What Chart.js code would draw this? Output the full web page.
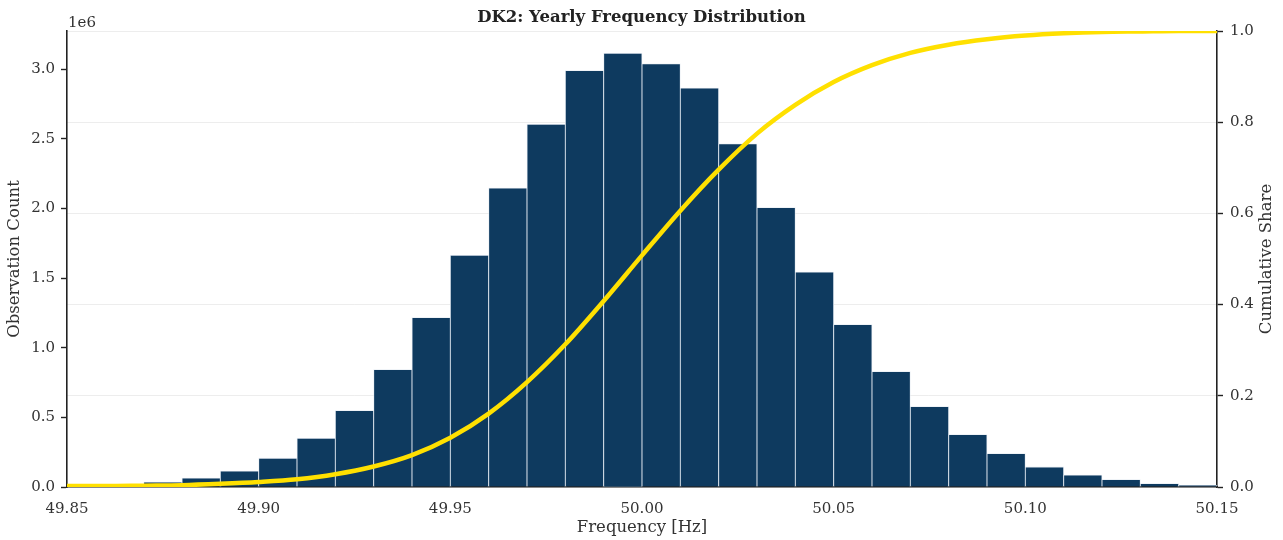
<!DOCTYPE html>
<html>
<head>
<meta charset="utf-8">
<title>DK2: Yearly Frequency Distribution</title>
<script src="https://cdn.jsdelivr.net/npm/chart.js@4.4.1/dist/chart.umd.min.js"></script>
<style>
  html, body { margin: 0; padding: 0; background: #ffffff; }
  #wrap { width: 1283px; height: 540px; }
</style>
</head>
<body>
<div id="wrap"><canvas id="chart" width="1283" height="540"></canvas></div>
<script>
// Histogram bins (left edge, Hz) and observation counts per 0.01 Hz bin
const binStart = [
  49.85, 49.86, 49.87, 49.88, 49.89, 49.90, 49.91, 49.92, 49.93, 49.94,
  49.95, 49.96, 49.97, 49.98, 49.99, 50.00, 50.01, 50.02, 50.03, 50.04,
  50.05, 50.06, 50.07, 50.08, 50.09, 50.10, 50.11, 50.12, 50.13, 50.14
];
const binWidth = 0.01;
const counts = [
  3000, 12000, 36000, 64000, 114000, 207000, 349000, 549000, 843000, 1216000,
  1663000, 2146000, 2604000, 2989000, 3113000, 3037000, 2864000, 2463000, 2006000, 1543000,
  1166000, 829000, 577000, 376000, 240000, 144000, 86000, 53000, 25000, 12000
];

// Cumulative share of observations at each frequency
const cdfFreq = [
  49.85, 49.86, 49.87, 49.88, 49.89, 49.90, 49.91, 49.92, 49.93, 49.94,
  49.95, 49.96, 49.97, 49.98, 49.99, 50.00, 50.01, 50.02, 50.03, 50.04,
  50.05, 50.06, 50.07, 50.08, 50.09, 50.10, 50.11, 50.12, 50.13, 50.14, 50.15
];
const cdfShare = [
  0.002, 0.002, 0.003, 0.004, 0.007, 0.011, 0.017, 0.028, 0.045, 0.070,
  0.108, 0.161, 0.230, 0.313, 0.408, 0.508, 0.606, 0.696, 0.775, 0.838,
  0.888, 0.925, 0.952, 0.970, 0.982, 0.990, 0.995, 0.998, 0.999, 1.000, 1.000
];

// Axis ticks
const freqTicks = [49.85, 49.90, 49.95, 50.00, 50.05, 50.10, 50.15];
const countTicks = [0, 500000, 1000000, 1500000, 2000000, 2500000, 3000000];
const shareTicks = [0.0, 0.2, 0.4, 0.6, 0.8, 1.0];
const countMax = 3273000;

const titleText = 'DK2: Yearly Frequency Distribution';
const xTitle = 'Frequency [Hz]';
const yTitle = 'Observation Count';
const y2Title = 'Cumulative Share';
const countScaleNote = '1e6';

const FONT = '"DejaVu Serif", "Liberation Serif", serif';
const TEXT = '#333333';
const AXIS = '#222222';
const TICK_SIZE = 15;
const LABEL_SIZE = 16.5;

// Right-hand axis title (reads bottom to top) and the 1e6 multiplier note
const axisNotes = {
  id: 'axisNotes',
  afterDraw(chart) {
    const { ctx, chartArea, scales } = chart;
    ctx.save();
    ctx.fillStyle = TEXT;
    ctx.font = TICK_SIZE + 'px ' + FONT;
    ctx.textAlign = 'left';
    ctx.textBaseline = 'alphabetic';
    ctx.fillText(countScaleNote, chartArea.left + 1, chartArea.top - 4);

    ctx.font = LABEL_SIZE + 'px ' + FONT;
    ctx.translate(scales.y2.right - 16, (chartArea.top + chartArea.bottom) / 2);
    ctx.rotate(-Math.PI / 2);
    ctx.textAlign = 'center';
    ctx.textBaseline = 'middle';
    ctx.fillText(y2Title, 0, 0);
    ctx.restore();
  }
};

const barData = binStart.map((s, i) => ({ x: s + binWidth / 2, y: counts[i] }));
const lineData = cdfFreq.map((f, i) => ({ x: f, y: cdfShare[i] }));

new Chart(document.getElementById('chart'), {
  type: 'bar',
  data: {
    datasets: [
      {
        type: 'line',
        label: 'Cumulative Share',
        data: lineData,
        yAxisID: 'y2',
        borderColor: '#FFE000',
        borderWidth: 4.5,
        borderCapStyle: 'round',
        pointRadius: 0,
        cubicInterpolationMode: 'monotone',
        fill: false,
        order: 0
      },
      {
        type: 'bar',
        label: 'Observation Count',
        data: barData,
        yAxisID: 'y',
        backgroundColor: '#0e3a5f',
        borderColor: 'rgba(225, 232, 240, 0.9)',
        borderWidth: 0.8,
        borderSkipped: 'bottom',
        barPercentage: 1.0,
        categoryPercentage: 1.0,
        order: 1
      }
    ]
  },
  options: {
    responsive: false,
    animation: false,
    devicePixelRatio: 1,
    layout: { padding: 0 },
    plugins: {
      legend: { display: false },
      tooltip: { enabled: false },
      title: {
        display: true,
        text: titleText,
        color: '#222222',
        font: { family: FONT, size: LABEL_SIZE, weight: 'bold', lineHeight: 1.2 },
        padding: { top: 8, bottom: 3.2 }
      }
    },
    scales: {
      x: {
        type: 'linear',
        position: 'bottom',
        min: 49.85,
        max: 50.15,
        offset: false,
        afterBuildTicks: (s) => { s.ticks = freqTicks.map(v => ({ value: v })); },
        afterFit: (s) => { s.height = 53; },
        ticks: {
          color: TEXT,
          font: { family: FONT, size: TICK_SIZE },
          padding: 13,
          maxRotation: 0,
          autoSkip: false,
          callback: (v) => Number(v).toFixed(2)
        },
        grid: { display: true, drawOnChartArea: false, drawTicks: false },
        border: { display: true, color: AXIS, width: 1.6 },
        title: {
          display: true,
          text: xTitle,
          color: TEXT,
          font: { family: FONT, size: LABEL_SIZE, lineHeight: 1.2 },
          padding: { top: 0, bottom: 2 }
        }
      },
      y: {
        type: 'linear',
        position: 'left',
        min: 0,
        max: countMax,
        afterBuildTicks: (s) => { s.ticks = countTicks.map(v => ({ value: v })); },
        afterFit: (s) => { s.width = 67; },
        ticks: {
          color: TEXT,
          font: { family: FONT, size: TICK_SIZE },
          padding: 6,
          callback: (v) => (v / 1e6).toFixed(1)
        },
        grid: {
          display: true,
          drawOnChartArea: false,
          drawTicks: true,
          tickLength: 6,
          tickColor: AXIS,
          tickWidth: 1.4
        },
        border: { display: true, color: AXIS, width: 1.6 },
        title: {
          display: true,
          text: yTitle,
          color: TEXT,
          font: { family: FONT, size: LABEL_SIZE, lineHeight: 1.2 },
          padding: { top: 5, bottom: 0 }
        }
      },
      y2: {
        type: 'linear',
        position: 'right',
        min: 0,
        max: 1,
        z: 1,
        afterBuildTicks: (s) => { s.ticks = shareTicks.map(v => ({ value: v })); },
        afterFit: (s) => { s.width = 66; },
        ticks: {
          color: TEXT,
          font: { family: FONT, size: TICK_SIZE },
          padding: 7,
          callback: (v) => Number(v).toFixed(1)
        },
        grid: {
          display: true,
          drawOnChartArea: true,
          color: 'rgba(0, 0, 0, 0.07)',
          lineWidth: 1,
          drawTicks: true,
          tickLength: 6,
          tickColor: AXIS,
          tickWidth: 1.4
        },
        border: { display: true, color: AXIS, width: 1.6 },
        title: { display: false }
      }
    }
  },
  plugins: [axisNotes]
});
</script>
</body>
</html>
